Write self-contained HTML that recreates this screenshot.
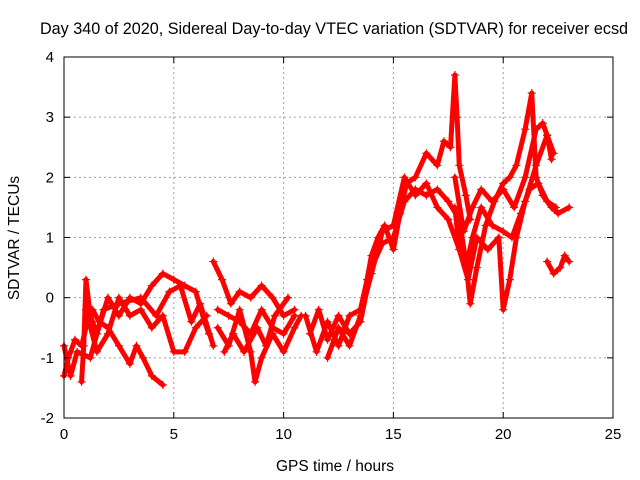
<!DOCTYPE html>
<html><head><meta charset="utf-8"><style>
body{margin:0;background:#fff;}
svg{display:block;font-family:"Liberation Sans",sans-serif;}
</style></head><body>
<svg id="chart" width="640" height="480">
<rect width="640" height="480" fill="#fff"/>
<text x="334" y="34" font-size="16.2" text-anchor="middle">Day 340 of 2020, Sidereal Day-to-day VTEC variation (SDTVAR) for receiver ecsd</text>
<g id="grid"></g><g id="data"></g><g id="axes"></g>
<text x="335" y="471" font-size="15.5" text-anchor="middle">GPS time / hours</text>
<text transform="translate(19,238) rotate(-90)" font-size="15.5" text-anchor="middle">SDTVAR / TECUs</text>
</svg>
<script>
const xTicks=[0,5,10,15,20,25];
const yTicks=[-2,-1,0,1,2,3,4];
const t1=[[0,-1.3],[0.2,-1.0],[0.5,-0.7],[0.8,-0.8],[1.0,-0.5],[1.3,-0.2],[1.6,-0.4],[2.0,-0.5],[2.5,-0.8],[3.0,-1.1],[3.3,-0.8],[3.6,-1.0],[4.0,-1.3],[4.5,-1.45]];
const t2=[[0.8,-1.4],[0.9,-0.8],[1.0,0.3],[1.2,-0.3],[1.5,-0.6],[2.0,0.0],[2.5,-0.3],[3.0,0.0],[3.5,-0.1],[4.0,0.2],[4.5,0.4],[5.0,0.3],[5.5,0.2],[6.0,0.1],[6.4,-0.4],[6.6,-0.6]];
const t3=[[1.0,-0.2],[1.5,-0.9],[2.0,-0.6],[2.5,0.0],[3.0,-0.3],[3.5,-0.2],[4.0,-0.5],[4.5,-0.3],[5.0,-0.9],[5.5,-0.9],[6.0,-0.5],[6.5,-0.3]];
const t4=[[0,-0.8],[0.3,-1.3],[0.6,-0.9],[1.2,-1.0],[1.8,-0.2],[2.5,-0.1],[3.5,0.0],[4.2,-0.3],[4.8,0.1],[5.3,0.2],[5.8,-0.4],[6.2,-0.1],[6.8,-0.8]];
const t5=[[6.8,0.6],[7.2,0.3],[7.6,-0.1],[8.0,0.1],[8.5,0.0],[9.0,0.2],[9.5,0.0],[10.0,-0.3],[10.5,-0.2]];
const t6=[[7.0,-0.2],[7.5,-0.3],[8.0,-0.4],[8.5,-0.6],[9.0,-0.2],[9.5,-0.5],[10.0,-0.6],[10.5,-0.3]];
const t7=[[7.0,-0.5],[7.5,-0.8],[8.0,-0.2],[8.5,-0.9],[8.7,-1.4],[9.0,-1.0],[9.5,-0.6],[10.0,-0.9],[10.5,-0.5],[10.8,-0.3]];
const t8=[[7.3,-0.9],[7.7,-0.6],[8.2,-0.9],[8.8,-0.5],[9.2,-0.8],[9.6,-0.3],[10.2,0.0]];
const t9=[[11.0,-0.3],[11.5,-0.9],[12.0,-0.4],[12.5,-0.8],[13.0,-0.3],[13.5,-0.2],[13.8,0.3],[14.0,0.7],[14.3,1.0],[14.6,1.2],[15.0,0.8],[15.3,1.4],[15.6,1.9],[16.0,2.0],[16.5,2.4],[17.0,2.2],[17.3,2.6],[17.6,2.5],[17.8,3.7],[17.9,3.0],[18.0,2.2],[18.3,1.7],[18.5,1.3]];
const t10=[[11.2,-0.6],[11.6,-0.2],[12.0,-0.7],[12.5,-0.3],[13.0,-0.6],[13.5,-0.4],[14.0,0.5],[14.5,0.9],[15.0,1.0],[15.5,1.6],[16.0,1.8],[16.5,1.7],[17.0,1.8],[17.5,1.6],[18.0,1.3],[18.3,0.6],[18.5,-0.1],[18.8,0.5],[19.2,1.2],[19.6,1.6],[20.0,1.9],[20.3,2.0],[20.6,2.2],[21.0,2.8],[21.3,3.4],[21.5,2.0],[21.8,1.7],[22.2,1.5],[22.5,1.4],[23.0,1.5]];
const t11=[[12.0,-1.0],[12.5,-0.5],[13.0,-0.8],[13.5,-0.3],[14.0,0.4],[14.5,1.1],[15.0,1.2],[15.5,2.0],[16.0,1.7],[16.5,1.9],[17.0,1.5],[17.5,1.3],[18.0,0.8],[18.4,0.3],[18.8,1.0],[19.3,0.8],[19.8,1.0],[20.0,-0.2],[20.3,0.3],[20.6,1.0],[21.0,1.6],[21.5,2.2],[22.0,2.7],[22.3,2.4]];
const t12=[[17.8,2.0],[18.2,1.1],[18.6,1.5],[19.0,1.8],[19.5,1.6],[20.0,1.8],[20.5,1.5],[21.0,2.0],[21.5,2.8],[21.8,2.9],[22.0,2.7],[22.2,2.3]];
const t13=[[22.0,0.6],[22.3,0.4],[22.6,0.5],[22.8,0.7],[23.0,0.6]];
const t14=[[17.8,1.5],[18.0,0.8],[18.3,0.5],[18.6,1.0],[19.0,1.5],[19.5,1.2],[20.0,1.1],[20.4,1.0],[20.8,1.4],[21.2,1.8],[21.6,1.9],[22.0,1.6],[22.4,1.5]];
const tracks=[t1,t2,t3,t4,t5,t6,t7,t8,t9,t10,t11,t12,t13,t14];
const L=64,R=613,T=57,B=418,X0=0,X1=25,Y0=-2,Y1=4;
const sx=v=>L+(v-X0)/(X1-X0)*(R-L);
const sy=v=>B-(v-Y0)/(Y1-Y0)*(B-T);
const NS='http://www.w3.org/2000/svg';
function mk(tag,attrs,parent){const e=document.createElementNS(NS,tag);for(const k in attrs)e.setAttribute(k,attrs[k]);parent.appendChild(e);return e;}
const grid=document.getElementById('grid'),axes=document.getElementById('axes'),data=document.getElementById('data');
xTicks.forEach(t=>{const x=sx(t);
 if(t>X0&&t<X1){const g=mk('line',{x1:x,x2:x,y1:T,y2:B,stroke:'#a0a0a0','stroke-dasharray':'2,3'},grid);
 
 }
 mk('line',{x1:x,x2:x,y1:B,y2:B-6,stroke:'#000'},axes);mk('line',{x1:x,x2:x,y1:T,y2:T+6,stroke:'#000'},axes);
 const l=mk('text',{x:x,y:B+21,'font-size':15,'text-anchor':'middle'},axes);l.textContent=t;
 
 });
yTicks.forEach(t=>{const y=sy(t);
 if(t>Y0&&t<Y1){const g=mk('line',{x1:L,x2:R,y1:y,y2:y,stroke:'#a0a0a0','stroke-dasharray':'2,3'},grid);
 
 }
 mk('line',{x1:L,x2:L+6,y1:y,y2:y,stroke:'#000'},axes);mk('line',{x1:R,x2:R-6,y1:y,y2:y,stroke:'#000'},axes);
 const l=mk('text',{x:L-10,y:y+5,'font-size':15,'text-anchor':'end'},axes);l.textContent=t;
 
 });
const frame=mk('rect',{x:L,y:T,width:R-L,height:B-T,fill:'none',stroke:'#000'},axes);


tracks.forEach(tr=>{
 const pl=mk('polyline',{points:tr.map(p=>sx(p[0])+','+sy(p[1])).join(' '),fill:'none',stroke:'#ff0000','stroke-width':5,'stroke-linejoin':'round','stroke-linecap':'round'},data);
 
 
 tr.forEach(p=>{const x=sx(p[0]),y=sy(p[1]);
  const m=mk('path',{d:`M${x-4},${y}H${x+4}M${x},${y-4}V${y+4}`,stroke:'#ff0000','stroke-width':1.2},data);
  
  });
});
</script>
</body></html>
